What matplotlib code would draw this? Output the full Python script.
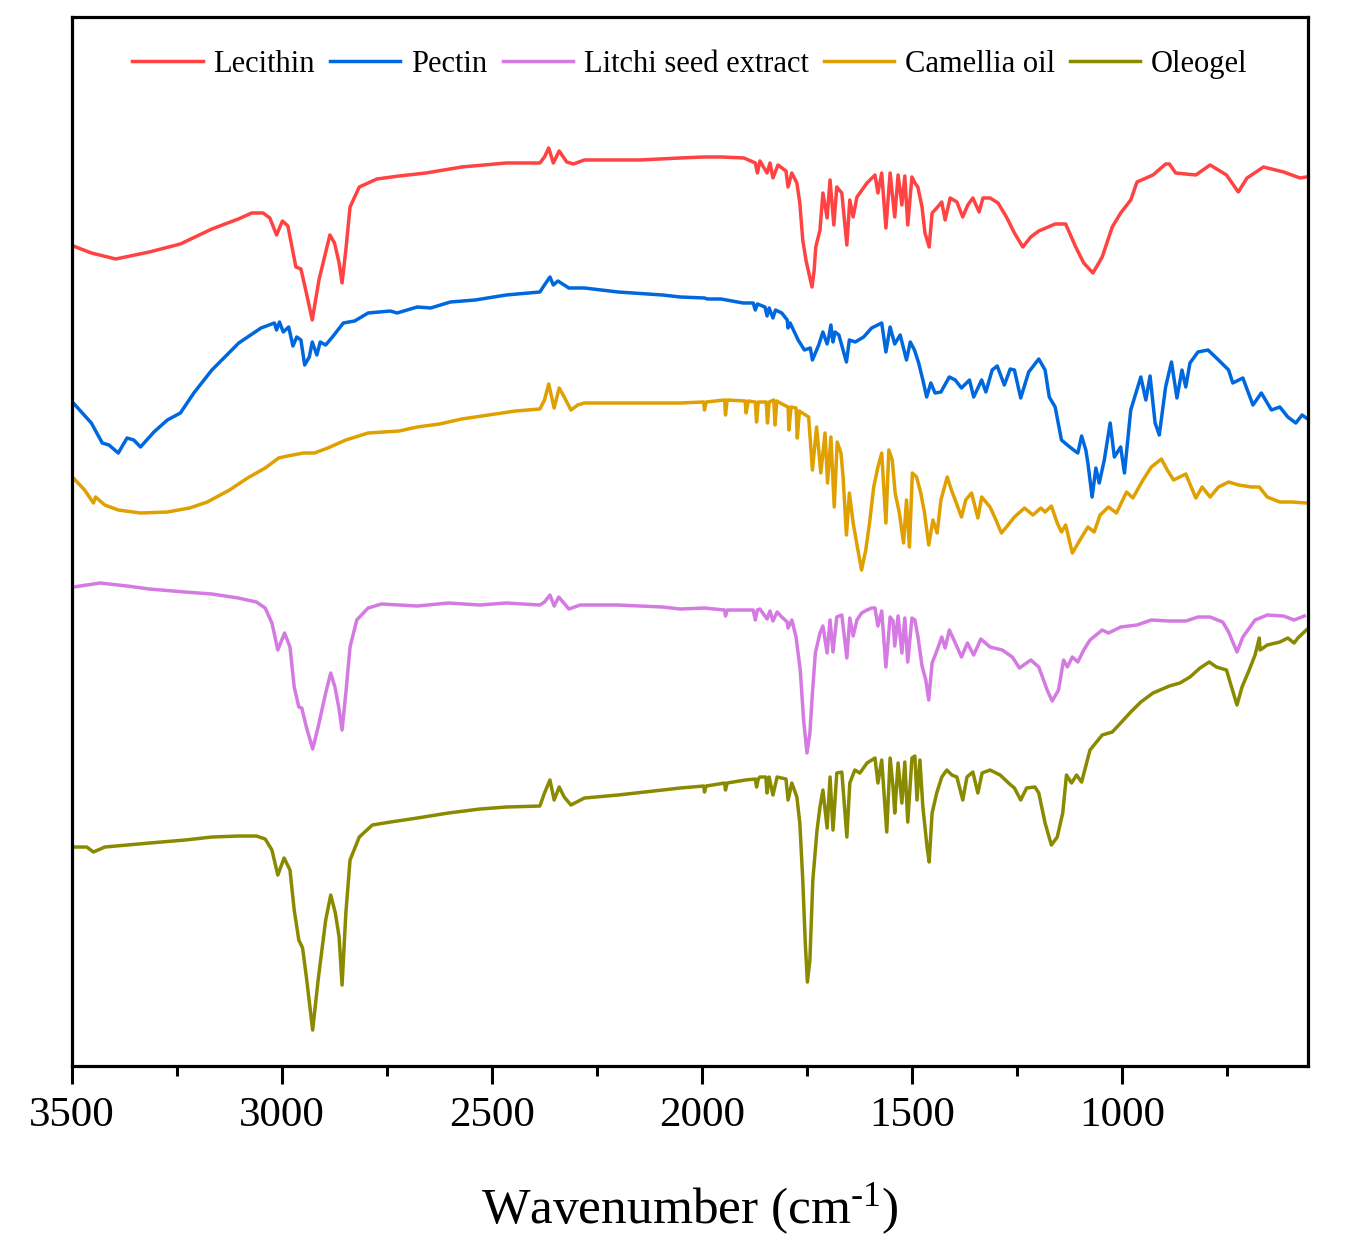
import matplotlib
matplotlib.use("Agg")
import matplotlib.pyplot as plt
from matplotlib.ticker import MultipleLocator

plt.rcParams['font.family'] = ['Liberation Serif', 'DejaVu Serif']
plt.rcParams['mathtext.fontset'] = 'custom'
plt.rcParams['mathtext.rm'] = 'Liberation Serif'
plt.rcParams['mathtext.it'] = 'Liberation Serif:italic'

# FTIR spectra: (wavenumber cm-1, stacked transmittance a.u.)
lecithin = [
    (3497, 820), (3454, 813), (3396, 807), (3316, 814), (3242, 822), (3167, 837), (3104, 847),
    (3072, 853), (3045, 853), (3029, 848), (3013, 831), (2999, 845), (2986, 840), (2967, 799),
    (2955, 797), (2942, 773), (2928, 746), (2912, 786), (2886, 831), (2875, 823), (2864, 803),
    (2857, 783), (2848, 816), (2838, 859), (2816, 879), (2774, 887), (2721, 890), (2657, 893),
    (2572, 899), (2466, 903), (2386, 903), (2375, 909), (2365, 918), (2354, 903), (2340, 915),
    (2322, 904), (2306, 902), (2280, 906), (2147, 906), (2052, 908), (1994, 909), (1955, 909),
    (1900, 908), (1873, 903), (1868, 893), (1862, 905), (1845, 893), (1838, 903), (1831, 888),
    (1819, 901), (1800, 895), (1795, 879), (1786, 893), (1774, 883), (1767, 863), (1760, 826),
    (1752, 805), (1744, 790), (1738, 779), (1733, 795), (1729, 819), (1719, 836), (1712, 873),
    (1702, 848), (1695, 886), (1686, 841), (1679, 879), (1667, 873), (1655, 821), (1648, 866),
    (1640, 849), (1631, 869), (1624, 873), (1607, 883), (1588, 891), (1581, 873), (1572, 893),
    (1562, 838), (1552, 893), (1541, 849), (1533, 891), (1524, 861), (1517, 890), (1510, 841),
    (1500, 889), (1493, 883), (1486, 879), (1476, 859), (1469, 833), (1459, 819), (1452, 853),
    (1441, 858), (1429, 864), (1421, 846), (1409, 868), (1393, 864), (1379, 849), (1367, 861),
    (1355, 868), (1340, 854), (1331, 868), (1314, 868), (1295, 863), (1275, 849), (1256, 833),
    (1236, 819), (1217, 829), (1198, 835), (1159, 842), (1134, 842), (1110, 819), (1091, 803),
    (1069, 793), (1047, 809), (1023, 839), (1003, 853), (979, 866), (964, 884), (926, 891),
    (896, 902), (887, 902), (872, 893), (824, 891), (790, 901), (751, 891), (723, 874),
    (702, 888), (663, 899), (615, 894), (576, 888), (561, 889),
]

pectin = [
    (3497, 663), (3454, 643), (3428, 623), (3412, 621), (3390, 613), (3369, 628), (3353, 626),
    (3337, 619), (3305, 634), (3273, 646), (3242, 653), (3210, 673), (3167, 696), (3103, 723),
    (3050, 738), (3018, 743), (3013, 736), (3006, 744), (2997, 734), (2984, 739), (2974, 720),
    (2965, 729), (2955, 726), (2946, 701), (2935, 709), (2928, 724), (2917, 711), (2909, 724),
    (2896, 721), (2880, 729), (2854, 743), (2827, 745), (2795, 753), (2742, 755), (2726, 753),
    (2678, 759), (2646, 758), (2599, 764), (2540, 766), (2466, 771), (2386, 774), (2375, 781),
    (2362, 789), (2354, 781), (2343, 785), (2317, 778), (2280, 778), (2200, 774), (2094, 771),
    (2052, 769), (1994, 768), (1987, 767), (1955, 767), (1902, 763), (1878, 763), (1873, 756),
    (1868, 762), (1850, 759), (1845, 750), (1840, 758), (1831, 748), (1825, 756), (1810, 753),
    (1797, 746), (1795, 738), (1790, 743), (1771, 726), (1756, 716), (1742, 718), (1737, 706),
    (1722, 721), (1712, 734), (1702, 722), (1698, 729), (1693, 741), (1688, 724), (1683, 734),
    (1674, 731), (1656, 704), (1649, 726), (1635, 724), (1615, 729), (1596, 738), (1572, 743),
    (1562, 714), (1552, 739), (1541, 722), (1528, 731), (1513, 706), (1504, 724), (1494, 716),
    (1484, 703), (1474, 686), (1465, 669), (1455, 683), (1445, 673), (1431, 674), (1411, 689),
    (1397, 686), (1382, 678), (1363, 686), (1353, 669), (1334, 686), (1324, 674), (1309, 696),
    (1297, 700), (1280, 681), (1266, 697), (1256, 696), (1241, 668), (1222, 694), (1198, 707),
    (1183, 696), (1173, 669), (1159, 659), (1144, 626), (1130, 621), (1115, 616), (1105, 613),
    (1096, 630), (1086, 616), (1081, 603), (1071, 569), (1062, 598), (1054, 583), (1042, 606),
    (1028, 643), (1018, 609), (1003, 619), (994, 593), (979, 656), (955, 689), (943, 666),
    (933, 690), (921, 643), (911, 631), (896, 679), (882, 704), (869, 668), (857, 696),
    (848, 679), (838, 703), (819, 714), (795, 716), (770, 706), (746, 696), (736, 683),
    (712, 688), (688, 661), (668, 673), (644, 656), (624, 659), (605, 649), (586, 643),
    (571, 651), (561, 648),
]

litchi = [
    (3497, 479), (3465, 481), (3433, 483), (3369, 480), (3316, 477), (3231, 474), (3167, 472),
    (3104, 468), (3061, 464), (3040, 458), (3024, 443), (3010, 416), (2994, 433), (2981, 419),
    (2971, 379), (2960, 359), (2953, 358), (2942, 339), (2927, 317), (2914, 339), (2896, 373),
    (2884, 393), (2874, 379), (2865, 359), (2857, 336), (2848, 373), (2838, 419), (2822, 446),
    (2795, 458), (2763, 462), (2678, 460), (2604, 463), (2529, 461), (2466, 463), (2386, 461),
    (2375, 464), (2362, 471), (2352, 460), (2341, 469), (2317, 457), (2290, 461), (2200, 461),
    (2094, 459), (2052, 457), (1994, 458), (1946, 456), (1944, 450), (1940, 456), (1878, 456),
    (1873, 446), (1868, 456), (1862, 457), (1845, 447), (1838, 455), (1831, 445), (1821, 454),
    (1810, 449), (1797, 444), (1795, 438), (1786, 446), (1776, 429), (1766, 396), (1758, 346),
    (1750, 313), (1743, 333), (1737, 373), (1730, 413), (1719, 433), (1712, 440), (1702, 413),
    (1695, 446), (1688, 414), (1679, 449), (1667, 451), (1655, 408), (1648, 448), (1640, 430),
    (1631, 446), (1620, 453), (1607, 456), (1596, 458), (1588, 458), (1581, 440), (1572, 455),
    (1562, 399), (1552, 449), (1545, 445), (1541, 420), (1533, 450), (1524, 413), (1517, 448),
    (1510, 404), (1500, 448), (1493, 446), (1486, 430), (1476, 400), (1467, 386), (1460, 366),
    (1452, 403), (1440, 416), (1429, 429), (1421, 418), (1411, 436), (1400, 426), (1382, 409),
    (1368, 423), (1353, 411), (1336, 427), (1314, 419), (1285, 416), (1261, 409), (1244, 398),
    (1217, 406), (1198, 399), (1178, 376), (1166, 365), (1151, 376), (1139, 406), (1130, 399),
    (1118, 409), (1105, 404), (1091, 416), (1076, 426), (1047, 436), (1032, 433), (1003, 439),
    (964, 441), (930, 446), (887, 445), (848, 445), (819, 449), (790, 449), (760, 444),
    (746, 434), (726, 414), (712, 429), (683, 446), (654, 451), (615, 450), (590, 446),
    (566, 450),
]

camellia = [
    (3497, 588), (3470, 576), (3449, 563), (3444, 569), (3422, 561), (3390, 556), (3337, 553),
    (3273, 554), (3220, 558), (3178, 564), (3125, 576), (3082, 588), (3040, 598), (3008, 608),
    (2987, 610), (2949, 613), (2923, 613), (2891, 618), (2848, 626), (2795, 633), (2721, 635),
    (2678, 639), (2625, 642), (2572, 647), (2508, 651), (2444, 655), (2386, 657), (2375, 666),
    (2365, 682), (2352, 658), (2340, 678), (2328, 669), (2312, 656), (2296, 661), (2280, 663),
    (2147, 663), (2052, 663), (1996, 664), (1994, 656), (1990, 664), (1946, 666), (1944, 651),
    (1940, 666), (1897, 665), (1895, 653), (1890, 665), (1873, 664), (1870, 644), (1866, 664),
    (1847, 664), (1844, 643), (1840, 664), (1829, 666), (1826, 641), (1822, 665), (1814, 663),
    (1795, 659), (1793, 636), (1788, 659), (1776, 658), (1773, 628), (1768, 655), (1761, 653),
    (1746, 649), (1737, 596), (1727, 639), (1717, 593), (1707, 633), (1701, 583), (1693, 629),
    (1685, 559), (1678, 624), (1669, 613), (1664, 589), (1656, 531), (1649, 573), (1640, 543),
    (1630, 519), (1620, 496), (1610, 516), (1601, 543), (1591, 579), (1581, 599), (1572, 613),
    (1562, 543), (1555, 616), (1547, 606), (1540, 573), (1530, 553), (1520, 523), (1513, 566),
    (1506, 519), (1499, 593), (1489, 589), (1479, 573), (1470, 553), (1460, 521), (1450, 546),
    (1440, 533), (1431, 566), (1416, 589), (1406, 576), (1397, 566), (1382, 549), (1372, 566),
    (1358, 573), (1343, 548), (1334, 569), (1314, 559), (1300, 546), (1287, 533), (1275, 539),
    (1256, 549), (1232, 558), (1212, 551), (1193, 558), (1183, 554), (1168, 560), (1154, 543),
    (1144, 534), (1134, 541), (1118, 513), (1100, 526), (1081, 539), (1066, 534), (1052, 551),
    (1032, 559), (1013, 553), (989, 574), (974, 568), (950, 586), (930, 599), (906, 607),
    (892, 596), (877, 586), (848, 592), (824, 568), (809, 579), (790, 569), (770, 579),
    (746, 584), (722, 581), (692, 579), (673, 579), (654, 569), (624, 564), (595, 564),
    (561, 563),
]

oleogel = [
    (3497, 219), (3465, 219), (3449, 214), (3422, 219), (3369, 221), (3316, 223), (3231, 226),
    (3167, 229), (3104, 230), (3061, 230), (3040, 227), (3024, 216), (3010, 191), (2995, 208),
    (2981, 196), (2971, 156), (2960, 126), (2951, 118), (2942, 89), (2927, 36), (2914, 86),
    (2896, 146), (2884, 171), (2873, 153), (2864, 129), (2857, 81), (2848, 153), (2838, 206),
    (2816, 229), (2785, 241), (2742, 244), (2678, 248), (2604, 253), (2529, 257), (2466, 259),
    (2386, 260), (2375, 273), (2362, 286), (2352, 266), (2340, 279), (2328, 269), (2312, 261),
    (2280, 268), (2200, 271), (2094, 276), (2052, 278), (1996, 280), (1994, 274), (1990, 280),
    (1946, 283), (1944, 276), (1940, 283), (1897, 286), (1873, 287), (1870, 279), (1866, 287),
    (1862, 289), (1848, 289), (1845, 273), (1840, 289), (1831, 271), (1821, 289), (1800, 287),
    (1795, 266), (1786, 283), (1774, 269), (1767, 243), (1760, 186), (1754, 123), (1749, 84),
    (1743, 106), (1736, 186), (1726, 236), (1719, 259), (1712, 276), (1702, 238), (1695, 289),
    (1688, 236), (1679, 293), (1667, 294), (1655, 229), (1648, 283), (1636, 296), (1624, 293),
    (1607, 303), (1588, 308), (1581, 283), (1572, 306), (1560, 234), (1552, 308), (1545, 279),
    (1541, 253), (1533, 303), (1524, 263), (1517, 304), (1510, 244), (1500, 308), (1493, 310),
    (1488, 266), (1481, 306), (1474, 259), (1464, 219), (1459, 204), (1452, 253), (1441, 273),
    (1429, 289), (1417, 296), (1405, 291), (1393, 289), (1379, 266), (1369, 289), (1355, 294),
    (1343, 273), (1333, 293), (1314, 296), (1290, 291), (1270, 283), (1256, 278), (1241, 266),
    (1227, 278), (1207, 279), (1198, 273), (1183, 243), (1168, 221), (1154, 229), (1141, 253),
    (1132, 291), (1120, 283), (1108, 291), (1096, 284), (1076, 316), (1047, 331), (1023, 334),
    (1003, 343), (979, 354), (955, 364), (926, 373), (887, 380), (862, 383), (838, 389),
    (814, 398), (792, 404), (775, 399), (751, 396), (739, 379), (726, 361), (714, 379),
    (697, 396), (683, 411), (673, 428), (671, 416), (654, 421), (624, 424), (605, 428),
    (590, 423), (581, 428), (561, 436),
]

labels = ["Lecithin", "Pectin", "Litchi seed extract", "Camellia oil", "Oleogel"]
colors = ["#FF4242", "#0068DE", "#D47AE2", "#DFA000", "#8A8A00"]
spectra = [lecithin, pectin, litchi, camellia, oleogel]

fig = plt.figure(figsize=(13.54, 12.48), dpi=100)
ax = fig.add_axes([0.0532, 0.1458, 0.9128, 0.8406])

for name, data, c in zip(labels, spectra, colors):
    wn, t = zip(*data)
    ax.plot(wn, t, color=c, lw=2.5, label=name)

ax.set_xlim(3500, 557)
ax.set_ylim(0, 1049)
ax.xaxis.set_major_locator(MultipleLocator(500))
ax.xaxis.set_minor_locator(MultipleLocator(250))
ax.set_yticks([])
for s in ax.spines.values():
    s.set_linewidth(2.3)
ax.tick_params(axis='x', which='major', direction='out', length=13, width=2.2,
               labelsize=31, pad=9)
ax.tick_params(axis='x', which='minor', direction='out', length=7, width=2.2)
ax.set_xlabel(r'Wavenumber (cm$^{\text{-}1}$)', fontsize=37, labelpad=33)

ax.legend(loc='upper center', bbox_to_anchor=(0.5, 0.995), ncol=5, frameon=False,
          fontsize=22, handlelength=2.3, handletextpad=0.35, columnspacing=0.5)

fig.savefig("out.png", dpi=100)
